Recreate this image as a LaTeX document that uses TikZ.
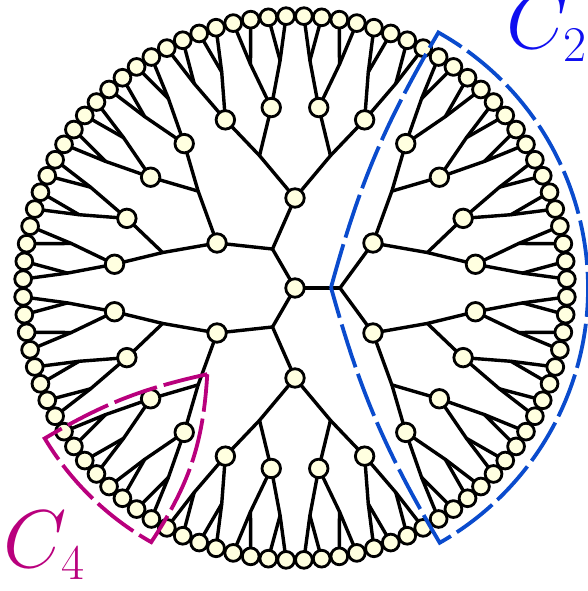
\RequirePackage{fix-cm}
\documentclass[tikz,border=0pt]{standalone}
\usetikzlibrary{backgrounds}
\DeclareMathSizes{82}{82}{50}{40}
\definecolor{nodefill}{RGB}{255,255,224}
\definecolor{ctwoline}{RGB}{10,75,205}
\definecolor{ctwotext}{RGB}{15,15,240}
\definecolor{cfour}{RGB}{185,0,125}
\begin{document}
\begin{tikzpicture}[x=1pt,y=1pt,
  vert/.style={circle,draw=black,fill=nodefill,line width=2.8pt,minimum size=18.5pt,inner sep=0pt},
  leafv/.style={vert,minimum size=16.8pt},
  edge/.style={line width=3.4pt,line cap=round,line join=round},
  region/.style={line width=3.8pt,dash pattern=on 45pt off 7pt},
  lbl/.style={inner sep=0pt,outer sep=0pt,anchor=base west,font=\fontsize{82}{82}\selectfont}
]
\useasboundingbox (-295,-303) rectangle (292,288);
\node[vert] (r) at (0,0) {};
\foreach \i in {0,1,2} {
  \pgfmathsetmacro\aA{120*\i}
  \coordinate (p\i) at (\aA:45);
  \begin{pgfonlayer}{background}\draw[edge] (r.center) -- (p\i);\end{pgfonlayer}
  \foreach \sb/\kb in {-1/0,1/1} {
    \pgfmathsetmacro\aB{\aA+30*\sb}
    \node[vert] (q\i\kb) at (\aB:90) {};
    \begin{pgfonlayer}{background}\draw[edge] (p\i) -- (q\i\kb.center);\end{pgfonlayer}
    \foreach \sc/\kc in {-1/0,1/1} {
      \pgfmathsetmacro\aC{\aB+15*\sc}
      \coordinate (s\i\kb\kc) at (\aC:137);
      \begin{pgfonlayer}{background}\draw[edge] (q\i\kb.center) -- (s\i\kb\kc);\end{pgfonlayer}
      \foreach \sd/\kd in {-1/0,1/1} {
        \pgfmathsetmacro\aD{\aC+7.5*\sd}
        \node[vert] (t\i\kb\kc\kd) at (\aD:182) {};
        \begin{pgfonlayer}{background}\draw[edge] (s\i\kb\kc) -- (t\i\kb\kc\kd.center);\end{pgfonlayer}
        \foreach \se/\ke in {-1/0,1/1} {
          \pgfmathsetmacro\aE{\aD+3.75*\se}
          \coordinate (u\i\kb\kc\kd\ke) at (\aE:228);
          \begin{pgfonlayer}{background}\draw[edge] (t\i\kb\kc\kd.center) -- (u\i\kb\kc\kd\ke);\end{pgfonlayer}
          \foreach \sf/\kf in {-1/0,1/1} {
            \pgfmathsetmacro\aF{\aE+1.875*\sf}
            \node[leafv] (v\i\kb\kc\kd\ke\kf) at (\aF:272) {};
            \begin{pgfonlayer}{background}\draw[edge] (u\i\kb\kc\kd\ke) -- (v\i\kb\kc\kd\ke\kf.center);\end{pgfonlayer}
          }
        }
      }
    }
  }
}
% region C2
\coordinate (V) at (36,0.5);
\coordinate (T) at (60.7:293);
\coordinate (B) at (-60.4:293);
\draw[region,ctwoline] (V) to[bend left=7.5] (T) arc[start angle=60.7,end angle=-60.4,radius=293] to[bend left=7.5] (V);
% region C4
\coordinate (K) at (224.5:123);
\coordinate (P) at (211:292);
\coordinate (Q) at (240.5:292);
\draw[region,cfour] (K) to[bend right=9] (P) arc[start angle=211,end angle=240.5,radius=292] to[bend right=15] (K);
\node[lbl,text=ctwotext] (c2) at (211,239) {$C_2$};
\node[lbl,text=cfour] (c4) at (-291,-279) {$C_4$};
\end{tikzpicture}
\end{document}
